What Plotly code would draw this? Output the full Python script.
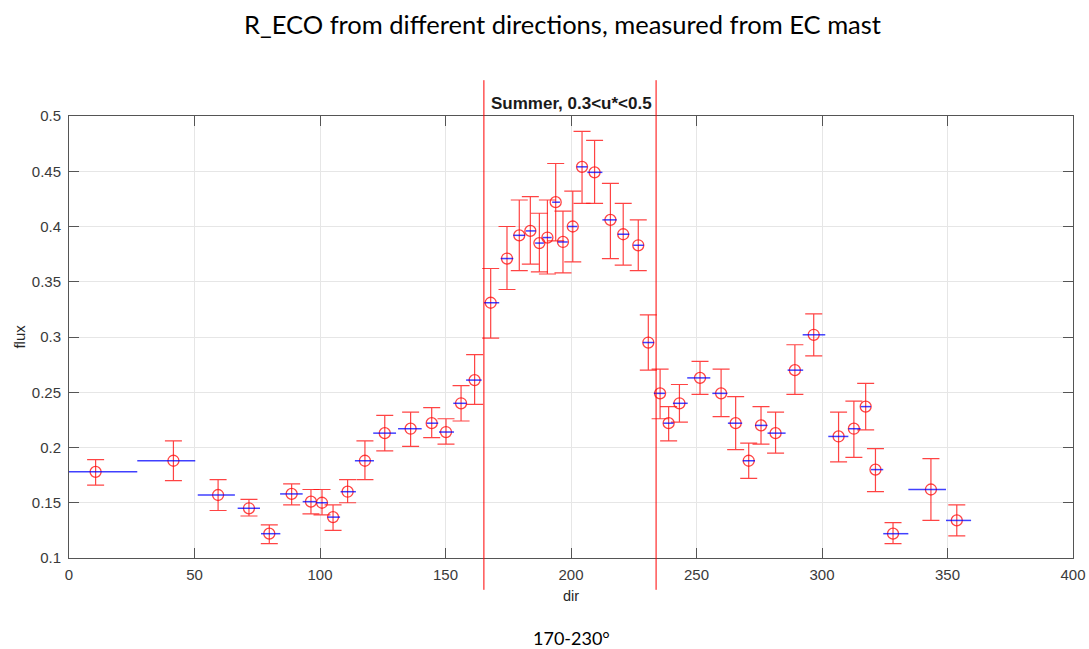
import plotly.graph_objects as go
import numpy as np

# ---- data ----
dir_deg = [10.6, 41.6, 59.4, 71.7, 79.8, 88.7, 96.4, 100.8, 105.2, 111.0,
           117.9, 125.8, 136.1, 144.5, 150.2, 156.2, 161.6, 168.0, 174.5, 179.4,
           183.8, 187.4, 190.6, 193.9, 196.8, 200.7, 204.4, 209.4, 215.7, 220.8,
           226.8, 230.8, 235.5, 238.9, 243.2, 251.4, 259.8, 265.6, 270.8, 275.7,
           281.5, 289.2, 296.7, 306.6, 312.7, 317.4, 321.3, 328.3, 343.4, 353.7]

flux = [0.178, 0.188, 0.157, 0.145, 0.122, 0.158, 0.151, 0.150, 0.137, 0.160,
        0.188, 0.213, 0.217, 0.222, 0.214, 0.240, 0.261, 0.331, 0.371, 0.392,
        0.396, 0.385, 0.390, 0.422, 0.386, 0.400, 0.454, 0.449, 0.406, 0.393,
        0.383, 0.295, 0.249, 0.222, 0.240, 0.263, 0.249, 0.222, 0.188, 0.220,
        0.213, 0.270, 0.302, 0.210, 0.217, 0.237, 0.180, 0.122, 0.162, 0.134]

flux_upper = [0.189, 0.206, 0.171, 0.153, 0.130, 0.167, 0.162, 0.162, 0.148, 0.171,
              0.206, 0.229, 0.232, 0.236, 0.226, 0.256, 0.284, 0.362, 0.400, 0.424,
              0.427, 0.412, 0.424, 0.457, 0.414, 0.432, 0.486, 0.478, 0.439, 0.421,
              0.406, 0.320, 0.271, 0.237, 0.257, 0.278, 0.271, 0.246, 0.204, 0.237,
              0.232, 0.293, 0.321, 0.232, 0.242, 0.258, 0.199, 0.132, 0.190, 0.148]

flux_lower = [0.166, 0.170, 0.143, 0.138, 0.113, 0.148, 0.140, 0.139, 0.125, 0.150,
              0.171, 0.197, 0.201, 0.209, 0.203, 0.224, 0.239, 0.299, 0.343, 0.360,
              0.366, 0.359, 0.357, 0.387, 0.358, 0.368, 0.421, 0.421, 0.371, 0.365,
              0.360, 0.270, 0.226, 0.206, 0.223, 0.248, 0.228, 0.198, 0.172, 0.203,
              0.195, 0.248, 0.283, 0.187, 0.191, 0.216, 0.160, 0.113, 0.134, 0.120]

bin_lo = [0, 27.2, 51.3, 67.2, 76.5, 84.1, 93.1, 98.5, 103.0, 108.2,
          113.9, 121.2, 131.1, 142.5, 147.4, 153.1, 158.2, 165.3, 172.0, 177.0,
          182.0, 185.7, 188.7, 192.5, 194.7, 198.7, 202.3, 206.5, 212.5, 218.6,
          224.8, 228.6, 233.0, 236.8, 240.6, 246.3, 256.3, 262.5, 268.4, 273.3,
          278.3, 286.3, 292.3, 302.5, 310.5, 315.4, 319.5, 324.4, 334.4, 349.4]
bin_hi = [27.2, 50.3, 66.1, 76.1, 84.2, 93.1, 98.5, 103.0, 108.0, 114.3,
          121.5, 130.3, 140.5, 147.1, 153.4, 158.4, 164.4, 171.4, 177.0, 181.7,
          186.0, 189.2, 192.3, 195.6, 198.7, 202.5, 206.5, 212.5, 218.2, 223.2,
          229.0, 233.1, 237.5, 240.9, 246.5, 255.5, 262.3, 268.2, 273.3, 278.3,
          285.5, 292.5, 301.3, 310.5, 315.4, 319.5, 324.4, 334.4, 349.4, 359.4]

sector_bounds = [165.3, 233.9]

x_ticks = [0, 50, 100, 150, 200, 250, 300, 350, 400]
y_ticks = [0.1, 0.15, 0.2, 0.25, 0.3, 0.35, 0.4, 0.45, 0.5]

title_text = "R_ECO from different directions, measured from EC mast"
axes_title = "Summer, 0.3<u*<0.5"
footer_text = "170-230°"

# ---- derived ----
d = np.array(dir_deg)
f = np.array(flux)
err_plus = np.array(flux_upper) - f
err_minus = f - np.array(flux_lower)
xerr_plus = np.array(bin_hi) - d
xerr_minus = d - np.array(bin_lo)

RED = "rgba(255,20,20,0.8)"
BLUE = "rgba(0,0,255,0.75)"
AXC = "#3a3a3a"

fig = go.Figure()

fig.add_trace(go.Scatter(
    x=dir_deg, y=flux, mode="markers",
    marker=dict(symbol="circle-open", size=11, color=RED, line=dict(width=1.3, color=RED)),
    error_y=dict(type="data", symmetric=False, array=err_plus, arrayminus=err_minus,
                 color=RED, thickness=1.2, width=8.5),
    showlegend=False, cliponaxis=False,
))
fig.add_trace(go.Scatter(
    x=dir_deg, y=flux, mode="markers",
    marker=dict(size=1, opacity=0),
    error_x=dict(type="data", symmetric=False, array=xerr_plus, arrayminus=xerr_minus,
                 color=BLUE, thickness=1.5, width=0),
    showlegend=False,
))

for xb in sector_bounds:
    fig.add_shape(type="line", xref="x", yref="paper", x0=xb, x1=xb, y0=-0.072, y1=1.081,
                  line=dict(color="red", width=1))

fig.add_annotation(text=title_text, xref="paper", yref="paper", x=0.492, y=1.208,
                   showarrow=False, xanchor="center", yanchor="middle",
                   font=dict(family="Lato", size=25.5, color="black"))
fig.add_annotation(text="<b>" + axes_title + "</b>", xref="paper", yref="paper", x=0.5, y=1.029,
                   showarrow=False, xanchor="center", yanchor="middle",
                   font=dict(family="Liberation Sans", size=17, color="#1a1a1a"))
fig.add_annotation(text=footer_text, xref="paper", yref="paper", x=0.5, y=-0.181,
                   showarrow=False, xanchor="center", yanchor="middle",
                   font=dict(family="Lato", size=18, color="black"))
fig.add_annotation(text="flux", xref="paper", yref="paper", x=-0.0488, y=0.501,
                   showarrow=False, textangle=-90, xanchor="center", yanchor="middle",
                   font=dict(family="Liberation Sans", size=15, color="#262626"))
fig.add_annotation(text="dir", xref="paper", yref="paper", x=0.5, y=-0.087,
                   showarrow=False, xanchor="center", yanchor="middle",
                   font=dict(family="Liberation Sans", size=14.5, color="#262626"))

axis_common = dict(showline=True, linecolor="#555555", linewidth=1, mirror="ticks",
                   ticks="inside", ticklen=10, tickcolor="#555555", tickwidth=1,
                   showgrid=True, gridcolor="#e6e6e6", gridwidth=1, zeroline=False,
                   automargin=False,
                   tickfont=dict(family="Liberation Sans", size=15, color=AXC))

fig.update_xaxes(range=[0, 400], tickvals=x_ticks, ticklabelstandoff=3, **axis_common)
fig.update_yaxes(range=[0.1, 0.5], tickvals=y_ticks, ticklabelstandoff=4, **axis_common)

fig.update_layout(
    width=1089, height=649,
    margin=dict(l=69, r=16, t=116, b=91),
    paper_bgcolor="white", plot_bgcolor="white",
)

fig.write_html("out.html")
